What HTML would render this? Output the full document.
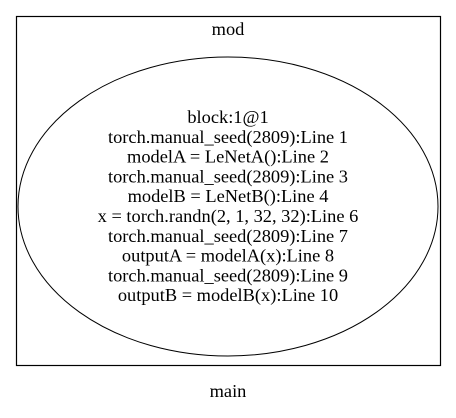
<!DOCTYPE html>
<html><head><style>html,body{margin:0;padding:0;background:#fff;}
svg text{font-family:"Liberation Serif","Times New Roman",serif;font-size:18.4px;}</style></head>
<body>
<svg width="456" height="413" xmlns="http://www.w3.org/2000/svg">
<rect x="16.5" y="16.5" width="424" height="349" fill="none" stroke="#000" stroke-width="1.2"/>
<text x="228" y="35" text-anchor="middle">mod</text>
<ellipse cx="228" cy="206.5" rx="210" ry="149.5" fill="none" stroke="#000" stroke-width="1"/>
<g text-anchor="middle">
<text x="228" y="123">block:1@1</text>
<text x="228" y="142.8">torch.manual_seed(2809):Line 1</text>
<text x="228" y="162.6">modelA = LeNetA():Line 2</text>
<text x="228" y="182.4">torch.manual_seed(2809):Line 3</text>
<text x="228" y="202.2">modelB = LeNetB():Line 4</text>
<text x="228" y="222">x = torch.randn(2, 1, 32, 32):Line 6</text>
<text x="228" y="241.8">torch.manual_seed(2809):Line 7</text>
<text x="228" y="261.6">outputA = modelA(x):Line 8</text>
<text x="228" y="281.4">torch.manual_seed(2809):Line 9</text>
<text x="228" y="301.2">outputB = modelB(x):Line 10</text>
</g>
<text x="228" y="397" text-anchor="middle">main</text>
</svg>
</body></html>
